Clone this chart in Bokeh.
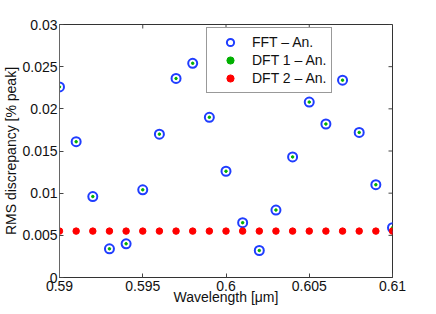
from bokeh.plotting import figure
from bokeh.models import Range1d, FixedTicker, Legend, LegendItem, ColumnDataSource
from bokeh.embed import file_html
from bokeh.resources import INLINE

wavelength = [0.590, 0.591, 0.592, 0.593, 0.594, 0.595, 0.596, 0.597, 0.598, 0.599, 0.600,
              0.601, 0.602, 0.603, 0.604, 0.605, 0.606, 0.607, 0.608, 0.609, 0.610]
fft_an = [0.0226, 0.0161, 0.0096, 0.0034, 0.0040, 0.0104, 0.0170, 0.0236, 0.0254, 0.0190, 0.0126,
          0.0065, 0.0032, 0.0080, 0.0143, 0.0208, 0.0182, 0.0234, 0.0172, 0.0110, 0.0059]
dft1_an = list(fft_an)
dft2_an = [0.0055] * 21

x_ticks = [0.59, 0.595, 0.6, 0.605, 0.61]
y_ticks = [0, 0.005, 0.01, 0.015, 0.02, 0.025, 0.03]
x_labels = ["0.59", "0.595", "0.6", "0.605", "0.61"]
y_labels = ["0", "0.005", "0.01", "0.015", "0.02", "0.025", "0.03"]
x_lo, x_hi = 0.59, 0.61
y_lo, y_hi = 0.0, 0.03

FONT = "Liberation Sans"
FW, FH = 333, 253  # frame size in px

p = figure(frame_width=FW, frame_height=FH, output_backend="svg", toolbar_location=None,
           x_range=Range1d(x_lo, x_hi), y_range=Range1d(y_lo, y_hi),
           min_border_left=53, min_border_right=30, min_border_top=24, min_border_bottom=29,
           background_fill_color="white", border_fill_color="white")
p.grid.visible = False
p.outline_line_color = "#333333"
p.outline_line_width = 1

src = ColumnDataSource(dict(x=wavelength, fft=fft_an, d1=dft1_an, d2=dft2_an))

r0 = p.scatter("x", "fft", source=src, marker="circle", size=9, fill_color=None, line_color="#1f3dff", line_width=2)
r1 = p.scatter("x", "d1", source=src, marker="circle", size=2.5, fill_color="#00b000", line_color="#00b000")
r2 = p.scatter("x", "d2", source=src, marker="circle", size=6.5, fill_color="#ff0000", line_color="#ff0000")

# ticks on top and right edges (inward), from the tick lists
tlx = (x_hi - x_lo) * 4 / FW
tly = (y_hi - y_lo) * 4 / FH
p.segment(x0=x_ticks, y0=[y_hi] * len(x_ticks), x1=x_ticks, y1=[y_hi - tly] * len(x_ticks),
          line_color="#444444", line_width=1)
p.segment(x0=[x_hi] * len(y_ticks), y0=y_ticks, x1=[x_hi - tlx] * len(y_ticks), y1=y_ticks,
          line_color="#444444", line_width=1)

for ax in (p.xaxis[0], p.yaxis[0]):
    ax.major_tick_in = 4
    ax.major_tick_out = 0
    ax.minor_tick_line_color = None
    ax.major_tick_line_color = "#444444"
    ax.major_label_text_font = FONT
    ax.major_label_text_font_size = "14px"
    ax.major_label_text_color = "#111111"
    ax.major_label_standoff = 2
    ax.axis_label_text_font = FONT
    ax.axis_label_text_font_size = "14px"
    ax.axis_label_text_font_style = "normal"
    ax.axis_label_text_color = "#111111"

p.xaxis.axis_line_color = "#333333"
p.yaxis.axis_line_color = "#666666"
p.xaxis.ticker = FixedTicker(ticks=x_ticks)
p.yaxis.ticker = FixedTicker(ticks=y_ticks)
p.xaxis.major_label_overrides = dict(zip(x_ticks, x_labels))
p.yaxis.major_label_overrides = dict(zip(y_ticks, y_labels))
p.yaxis.axis_label = "RMS discrepancy [% peak]"
p.yaxis.axis_label_standoff = 0
p.xaxis.axis_label = "Wavelength [\u03bcm]"
p.xaxis.major_label_standoff = 3
p.xaxis.axis_label_standoff = -5

legend = Legend(items=[LegendItem(label="FFT \u2013 An.", renderers=[r0]),
                       LegendItem(label="DFT 1 \u2013 An.", renderers=[r1]),
                       LegendItem(label="DFT 2 \u2013 An.", renderers=[r2])],
                location=(147, 184), label_text_font=FONT, label_text_font_size="14px",
                label_text_color="#111111", border_line_color="#333333", border_line_width=1,
                padding=5, spacing=0, glyph_height=18, glyph_width=36, label_height=18,
                label_standoff=4, margin=0, background_fill_alpha=1.0)
p.add_layout(legend, "center")

open("out.html", "w").write(file_html(p, INLINE))
